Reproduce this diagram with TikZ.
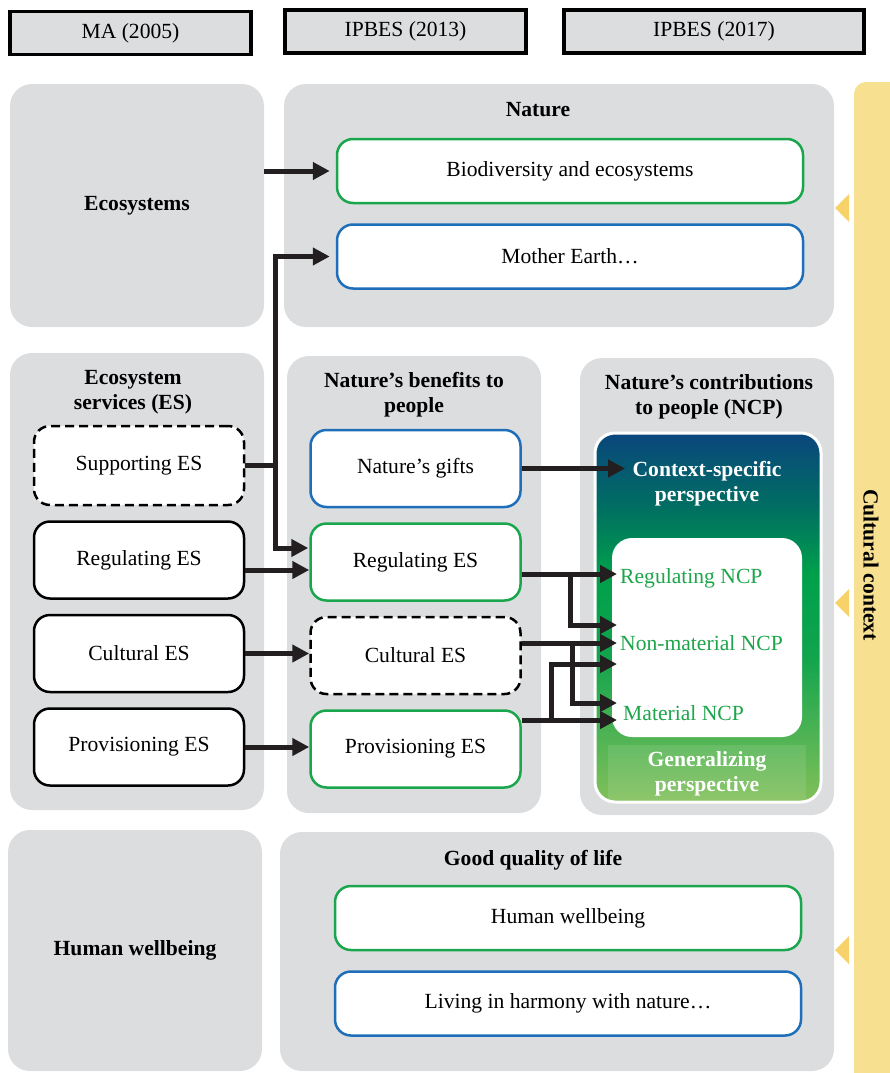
\documentclass[tikz,border=0pt]{standalone}
\usepackage{fontspec}
\setmainfont{Liberation Serif}
\usetikzlibrary{arrows.meta, positioning, calc, backgrounds}
\definecolor{panelGray}{RGB}{220,221,223}
\definecolor{esGreen}{RGB}{26,166,76}
\definecolor{esBlue}{RGB}{30,110,185}
\definecolor{ncpText}{RGB}{30,165,75}
\definecolor{ctxYellow}{RGB}{248,224,145}
\definecolor{ctxArrow}{RGB}{246,210,105}
\definecolor{ncpTop}{RGB}{10,70,125}
\definecolor{ncpTeal}{RGB}{0,110,98}
\definecolor{ncpMid}{RGB}{0,160,75}
\definecolor{ncpBottom}{RGB}{130,192,90}
\definecolor{arrBlack}{RGB}{35,31,32}
\newcommand{\dsize}{\fontsize{21.6}{25}\selectfont}
\pgfdeclareverticalshading{ncpShade}{100bp}{color(0bp)=(ncpBottom); color(25bp)=(ncpBottom); color(45bp)=(ncpMid!88!ncpBottom); color(56bp)=(ncpMid); color(65bp)=(ncpTeal); color(75bp)=(ncpTop); color(100bp)=(ncpTop)}

\begin{document}
\begin{tikzpicture}[x=1pt, y=-1pt, font=\dsize,
    hdr/.style={draw, line width=3.5pt, fill=panelGray, minimum height=43pt, font=\dsize},
    panel/.style={fill=panelGray, rounded corners=22pt, font=\dsize\bfseries},
    ptitle/.style={align=center, font=\dsize\bfseries},
    esbox/.style={draw, line width=2.5pt, fill=white, rounded corners=16pt, minimum width=210pt, minimum height=77pt, font=\dsize},
    dashbox/.style={esbox, dash pattern=on 9pt off 5pt},
    greenbox/.style={esbox, draw=esGreen},
    bluebox/.style={esbox, draw=esBlue},
    widebox/.style={esbox, minimum width=466pt, minimum height=64pt},
    ncptxt/.style={anchor=west, inner sep=3pt, text=ncpText, font=\dsize},
    arr/.style={-{Triangle[length=17pt, width=17pt]}, line width=5pt, arrBlack}]
    \useasboundingbox (0,0) rectangle (889,1073);

    % headers
    \node[hdr, minimum width=241pt] (ma) at (130.5,33) {MA (2005)};
    \node[hdr, minimum width=241pt] (ip13) at (405.5,31.5) {IPBES (2013)};
    \node[hdr, minimum width=300pt] (ip17) at (714,31.5) {IPBES (2017)};

    % panels
    \node[panel, minimum width=254pt, minimum height=243pt] (eco) at (137,205.5) {Ecosystems};
    \node[panel, minimum width=550pt, minimum height=243pt] (nat) at (559,205.5) {};
    \node[panel, minimum width=254pt, minimum height=457pt] (esP) at (137,581.5) {};
    \node[panel, minimum width=254pt, minimum height=457pt] (nbP) at (414,584.5) {};
    \node[panel, minimum width=254pt, minimum height=457pt] (ncpP) at (707,586.5) {};
    \node[panel, minimum width=254pt, minimum height=241pt] (hw) at (135,950.5) {Human wellbeing};
    \node[panel, minimum width=554pt, minimum height=239pt] (gql) at (557,951.5) {};

    \node[ptitle] (natT) at (538,110) {Nature};
    \node[ptitle] (esT) at (133,392) {Ecosystem\\services (ES)};
    \node[ptitle] (nbT) at (414,395) {Nature’s benefits to\\people};
    \node[ptitle] (ncpT) at (709,397) {Nature’s contributions\\to people (NCP)};
    \node[ptitle] (gqlT) at (533,860) {Good quality of life};

    % boxes
    \node[widebox, draw=esGreen] (bio) at (570,171) {Biodiversity and ecosystems};
    \node[widebox, draw=esBlue, below=19pt of bio] (mother) {Mother Earth…};
    \node[widebox, draw=esGreen] (hwB) at (568,918) {Human wellbeing};
    \node[widebox, draw=esBlue, below=19pt of hwB] (harm) {Living in harmony with nature…};

    \node[dashbox, minimum height=79pt] (supA) at (139,465.5) {Supporting ES};
    \node[esbox, below=14pt of supA] (regA) {Regulating ES};
    \node[esbox, below=14pt of regA] (culA) {Cultural ES};
    \node[esbox, below=14pt of culA] (proA) {Provisioning ES};

    \node[bluebox] (gift) at (415.5,468.5) {Nature’s gifts};
    \node[greenbox, below=14pt of gift] (regB) {Regulating ES};
    \node[dashbox, below=14pt of regB] (culB) {Cultural ES};
    \node[greenbox, below=14pt of culB] (proB) {Provisioning ES};

    % NCP block
    \node[draw=white, line width=3pt, rounded corners=20pt, shade, shading=ncpShade, minimum width=226pt, minimum height=369pt] (ncp) at (708,617.5) {};
    \node[fill=white, rounded corners=20pt, minimum width=190pt, minimum height=199pt] (ncpIn) at (707,637.5) {};
    \node[fill=white, fill opacity=0.1, minimum width=198pt, minimum height=55pt] (genBg) at (707,772.5) {};
    \node[ptitle, text=white] (ctx) at (707,484) {Context-specific\\perspective};
    \node[ptitle, text=white] (gen) at (707,774) {Generalizing\\perspective};
    \node[ncptxt] (rNCP) at (617,578) {Regulating NCP};
    \node[ncptxt] (nNCP) at (617,643) {Non-material NCP};
    \node[ncptxt] (mNCP) at (620,713) {Material NCP};

    % cultural context
    \fill[ctxYellow, rounded corners=12pt] (854,82) rectangle (905,1090);
    \node[ptitle, rotate=-90] (cultT) at (871,565) {Cultural context};
    \foreach \ty in {208,603,950}
        \fill[ctxArrow] (849,\ty-14) -- (849,\ty+14) -- (835,\ty) -- cycle;

    % arrows
    \draw[arr] (eco.east |- bio.west) -- ([xshift=-6pt]bio.west);
    \draw[arr] (supA.east) -- ++(30,0) |- ([xshift=-6pt]mother.west);
    \draw[arr] (supA.east) -- ++(30,0) |- ([yshift=14pt, xshift=-1pt]regB.west);
    \draw[arr] ([yshift=-10pt]regA.east) -- ([yshift=-10pt]regA.east -| regB.west);
    \draw[arr] (culA.east) -- (culA.east -| culB.west);
    \draw[arr] (proA.east) -- (proA.east -| proB.west);
    \draw[arr] (gift.east) -- ([xshift=-4pt]gift.east -| ctx.west);
    \draw[arr] ([yshift=-12pt]regB.east) -- ([yshift=-12pt]regB.east -| rNCP.west);
    \draw[arr] ([yshift=-12pt]regB.east) -- ++(49,0) |- ([yshift=18pt]nNCP.west);
    \draw[arr] (culB.east |- nNCP.west) -- (nNCP.west);
    \draw[arr] (culB.east |- nNCP.west) -- ++(51,0) |- ([yshift=10pt]mNCP.west -| nNCP.west);
    \draw[arr] ([yshift=29pt]proB.east) -- ([yshift=29pt]proB.east -| nNCP.west);
    \draw[arr] ([yshift=29pt]proB.east) -- ++(30,0) |- ([yshift=-21pt]nNCP.west);
\end{tikzpicture}
\end{document}
